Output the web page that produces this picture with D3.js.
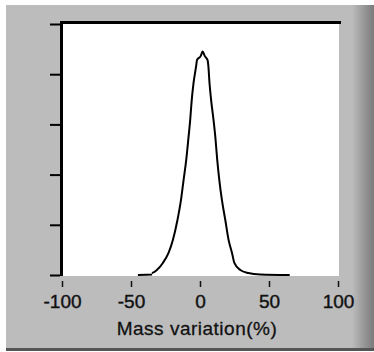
<!DOCTYPE html>
<html>
<head>
<meta charset="utf-8">
<script src="https://cdn.jsdelivr.net/npm/d3@7"></script>
<style>
  html, body { margin: 0; padding: 0; background: #fff; }
  svg { display: block; }
</style>
</head>
<body>
<svg id="chart" width="374" height="352"></svg>
<script>
// ---- data ----
const massVariation = [-45, -34.7, -34.9, -31.3, -26.9, -22.8, -19.6, -16.3, -13.8, -11.9, -10.0, -8.3, -7.1, -6.1, -4.7, -2.7, -2.2, 0.5, 1.9, 3.5, 5.5, 6.0, 6.9, 8.2, 9.8, 11.1, 12.5, 14.0, 15.9, 18.3, 20.7, 23.2, 24.9, 29.2, 35.0, 43.7, 65];
const frequency     = [0, 0.01, 0.04, 0.10, 0.24, 0.44, 0.70, 1.10, 1.49, 1.89, 2.29, 2.75, 3.09, 3.45, 3.82, 4.18, 4.28, 4.36, 4.45, 4.36, 4.28, 4.18, 3.82, 3.45, 3.09, 2.75, 2.29, 1.89, 1.49, 1.10, 0.70, 0.44, 0.24, 0.10, 0.04, 0.01, 0];
const xTicks = [-100, -50, 0, 50, 100];
const yTicks = [0, 1, 2, 3, 4, 5];
const xLabel = "Mass variation(%)";

const svg = d3.select("#chart");

// panel background
svg.append("rect").attr("x", 6).attr("y", 5).attr("width", 368).attr("height", 346).attr("fill", "#bcbcbc");
const grad = svg.append("defs").append("linearGradient").attr("id", "rg").attr("x1", 0).attr("x2", 1);
grad.append("stop").attr("offset", 0).attr("stop-color", "#bcbcbc");
grad.append("stop").attr("offset", 1).attr("stop-color", "#7a7a7a");
svg.append("rect").attr("x", 352).attr("y", 5).attr("width", 22).attr("height", 346).attr("fill", "url(#rg)");
svg.append("rect").attr("x", 6).attr("y", 348).attr("width", 368).attr("height", 3).attr("fill", "#555");

const x = d3.scaleLinear().domain([-100, 100]).range([62, 338]);
const y = d3.scaleLinear().domain([0, 5]).range([275, 24]);

// plot area
svg.append("rect").attr("x", 62).attr("y", 24).attr("width", 277).attr("height", 252).attr("fill", "#fff");
// sunken border top + left
svg.append("rect").attr("x", 60).attr("y", 21).attr("width", 281).attr("height", 3).attr("fill", "#000");
svg.append("rect").attr("x", 60).attr("y", 21).attr("width", 3).attr("height", 255).attr("fill", "#000");

// y axis ticks (no labels)
const yAxis = d3.axisLeft(y).tickValues(yTicks).tickSize(10).tickFormat("");
const gy = svg.append("g").attr("transform", "translate(60,0)").call(yAxis);
gy.select(".domain").remove();
gy.selectAll(".tick line").attr("stroke", "#000").attr("stroke-width", 2);

// x axis
const xAxis = d3.axisBottom(x).tickValues(xTicks).tickSize(6).tickPadding(8).tickFormat(d => String(d));
const gx = svg.append("g").attr("transform", "translate(0,281)").call(xAxis);
gx.select(".domain").remove();
gx.selectAll(".tick line").attr("stroke", "#111").attr("stroke-width", 1.5);
gx.selectAll(".tick text")
  .attr("fill", "#111")
  .attr("font-family", "Liberation Sans, Arial, sans-serif")
  .attr("font-size", 19)
  .attr("stroke", "#111").attr("stroke-width", 0.4)
  .attr("dy", "0.71em");

// curve
const pts = massVariation.map((v, i) => [v, frequency[i]]);
const line = d3.line().x(d => x(d[0])).y(d => y(d[1])).curve(d3.curveMonotoneX);
svg.append("path").datum(pts).attr("d", line).attr("fill", "none").attr("stroke", "#000").attr("stroke-width", 2);

// axis title
svg.append("text")
  .attr("x", 197).attr("y", 335)
  .attr("text-anchor", "middle")
  .attr("font-family", "Liberation Sans, Arial, sans-serif")
  .attr("font-size", 19)
  .attr("letter-spacing", 0.5)
  .attr("fill", "#111")
  .attr("stroke", "#111").attr("stroke-width", 0.3)
  .text(xLabel);
</script>
</body>
</html>
